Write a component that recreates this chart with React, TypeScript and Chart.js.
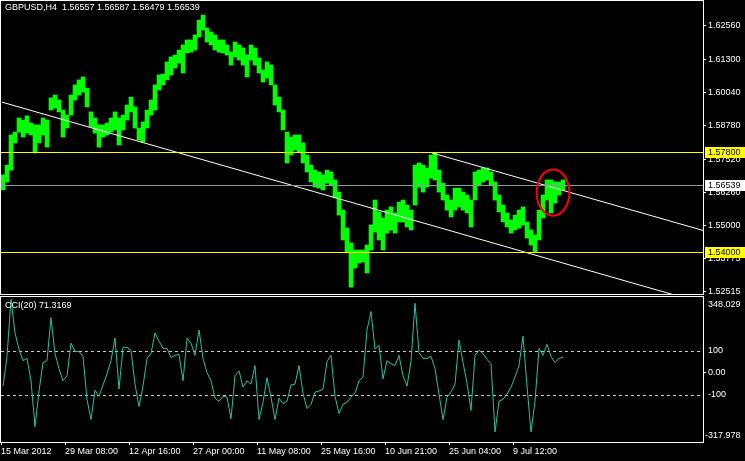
import React, { useEffect, useRef } from 'react';
import { Chart, registerables } from 'chart.js';
Chart.register(...registerables);

const FONT = '"Liberation Sans", Arial, sans-serif';

const titleText = 'GBPUSD,H4  1.56557 1.56587 1.56479 1.56539';
const cciTitle = 'CCI(20) 71.3169';

const barHighs = [
  1.5693, 1.5730, 1.5844, 1.5855, 1.5908, 1.5900, 1.5916, 1.5889, 1.5882, 1.5882,
  1.5908, 1.5900, 1.5984, 1.5995, 1.5976, 1.5938, 1.5919, 1.5995, 1.6033, 1.6052,
  1.6063, 1.6021, 1.5931, 1.5908, 1.5882, 1.5882, 1.5889, 1.5908, 1.5931, 1.5908,
  1.5919, 1.5957, 1.5987, 1.5950, 1.5870, 1.5893, 1.5938, 1.5976, 1.6033, 1.6071,
  1.6074, 1.6120, 1.6139, 1.6146, 1.6165, 1.6184, 1.6203, 1.6203, 1.6222, 1.6278,
  1.6297, 1.6248, 1.6233, 1.6222, 1.6203, 1.6203, 1.6184, 1.6157, 1.6195, 1.6184,
  1.6173, 1.6146, 1.6184, 1.6173, 1.6135, 1.6089, 1.6120, 1.6108, 1.6033, 1.5987,
  1.5938, 1.5855, 1.5836, 1.5844, 1.5844, 1.5814, 1.5768, 1.5730, 1.5711, 1.5704,
  1.5693, 1.5711, 1.5704, 1.5674, 1.5628, 1.5560, 1.5492, 1.5436, 1.5409, 1.5409,
  1.5409, 1.5428, 1.5504, 1.5598, 1.5553, 1.5530, 1.5560, 1.5572, 1.5549, 1.5590,
  1.5598, 1.5579, 1.5560, 1.5730, 1.5738, 1.5730, 1.5719, 1.5768, 1.5776, 1.5711,
  1.5662, 1.5617, 1.5598, 1.5643, 1.5643, 1.5628, 1.5617, 1.5598, 1.5704, 1.5711,
  1.5719, 1.5719, 1.5704, 1.5666, 1.5617, 1.5579, 1.5549, 1.5522, 1.5541, 1.5560,
  1.5572, 1.5515, 1.5485, 1.5466, 1.5560, 1.5617, 1.5674, 1.5674, 1.5666, 1.5666, 1.5674,
];

const barLows = [
  1.5636, 1.5666, 1.5711, 1.5814, 1.5855, 1.5836, 1.5851, 1.5844, 1.5776, 1.5814,
  1.5844, 1.5798, 1.5938, 1.5946, 1.5931, 1.5836, 1.5870, 1.5919, 1.5976, 1.5995,
  1.6006, 1.5950, 1.5874, 1.5851, 1.5798, 1.5836, 1.5844, 1.5855, 1.5863, 1.5806,
  1.5863, 1.5900, 1.5931, 1.5870, 1.5825, 1.5817, 1.5870, 1.5919, 1.5938, 1.6014,
  1.6033, 1.6052, 1.6071, 1.6097, 1.6116, 1.6078, 1.6154, 1.6157, 1.6165, 1.6214,
  1.6241, 1.6195, 1.6184, 1.6165, 1.6157, 1.6154, 1.6146, 1.6108, 1.6139, 1.6127,
  1.6108, 1.6063, 1.6127, 1.6108, 1.6078, 1.6044, 1.6059, 1.6033, 1.5957, 1.5931,
  1.5863, 1.5738, 1.5768, 1.5787, 1.5779, 1.5738, 1.5704, 1.5666, 1.5647, 1.5643,
  1.5636, 1.5662, 1.5655, 1.5606, 1.5541, 1.5447, 1.5398, 1.5269, 1.5341, 1.5360,
  1.5364, 1.5322, 1.5409, 1.5477, 1.5447, 1.5409, 1.5473, 1.5485, 1.5473, 1.5515,
  1.5515, 1.5496, 1.5485, 1.5579, 1.5647, 1.5628, 1.5647, 1.5681, 1.5674, 1.5628,
  1.5598, 1.5560, 1.5534, 1.5560, 1.5572, 1.5560, 1.5549, 1.5496, 1.5598, 1.5655,
  1.5666, 1.5674, 1.5655, 1.5598, 1.5553, 1.5515, 1.5496, 1.5473, 1.5485, 1.5492,
  1.5504, 1.5454, 1.5428, 1.5401, 1.5447, 1.5530, 1.5598, 1.5549, 1.5587, 1.5617, 1.5636,
];

const cciValues = [
  -61, 75, 337, 183, 108, 56, 66, -37, -248, -84,
  47, 56, 253, 89, 19, -37, -14, 136, 98, 98,
  75, -122, -215, -80, -108, -56, -5, 56, 159, -75,
  117, 117, 103, -52, -155, -61, 66, 89, 183, 145,
  112, 112, 70, 80, 84, -37, 159, 136, 80, 197,
  66, 0, -37, -117, -131, -108, -112, -211, -14, 9,
  -66, -37, -52, 33, -215, -136, -23, -112, -215, -117,
  -141, -131, -56, -52, 33, -94, -164, -145, -89, -84,
  -75, 52, 80, -108, -187, -145, -136, -112, -94, -37,
  -19, 197, 281, 108, 126, -28, 56, 42, 33, 80,
  -14, -61, 52, 319, 94, 66, 66, 75, 19, -98,
  -215, -112, -89, -52, 150, 47, -47, -173, 80, 103,
  89, 61, 42, -272, -131, -122, -98, -66, -19, 33,
  169, -61, -272, -131, 112, 80, 131, 75, 47, 66, 71,
];

const xTickPositions = [0, 16, 32, 48, 64, 80, 96, 112, 128];
const xTickLabels = [
  '15 Mar 2012', '29 Mar 08:00', '12 Apr 16:00', '27 Apr 00:00', '11 May 08:00',
  '25 May 16:00', '10 Jun 21:00', '25 Jun 04:00', '9 Jul 12:00',
];
const xMax = 175.5;

const priceTicks = [1.6256, 1.613, 1.6004, 1.5878, 1.5752, 1.5626, 1.55, 1.53775, 1.52515];
const priceMin = 1.5239;
const priceMax = 1.6354;
const levelLines = [1.578, 1.54];
const bidPrice = 1.56539;

const trend1X = [0.25, 175.5];
const trend1Y = [1.5968, 1.5208];
const trend2X = [107.75, 175.5];
const trend2Y = [1.5776, 1.5483];

const ellipseCenter = [138, 1.5626];
const ellipseRadius = [4.1, 0.0087];

const cciMin = -317.978;
const cciMax = 348.029;
const cciTicks = [100, 0, -100];
const cciLevels = [100, -100];

const W = 745;
const PRICE_H = 296;
const CCI_H = 165;
const AXIS_W = 42;

const noPad = (s: any) => {
  s.paddingTop = 0;
  s.paddingBottom = 0;
  s.paddingLeft = 0;
  s.paddingRight = 0;
};

export default function App() {
  const priceRef = useRef<HTMLCanvasElement>(null);
  const cciRef = useRef<HTMLCanvasElement>(null);

  useEffect(() => {
    document.body.style.margin = '0';
    document.body.style.background = '#000';
    const font = { family: FONT, size: 9 };

    const pricePlugin = {
      id: 'pricePanel',
      afterDatasetsDraw(chart: any) {
        const { ctx, chartArea: a, scales } = chart;
        const ys = scales.y;
        const xs = scales.x;
        ctx.save();
        ctx.beginPath();
        ctx.rect(a.left, a.top, a.right - a.left, a.bottom - a.top);
        ctx.clip();
        ctx.lineWidth = 1;
        ctx.strokeStyle = '#80a0a0';
        const py = Math.round(ys.getPixelForValue(bidPrice)) + 0.5;
        ctx.beginPath(); ctx.moveTo(a.left, py); ctx.lineTo(a.right, py); ctx.stroke();
        ctx.strokeStyle = '#ffff00';
        levelLines.forEach((v) => {
          const p = Math.round(ys.getPixelForValue(v)) + 0.5;
          ctx.beginPath(); ctx.moveTo(a.left, p); ctx.lineTo(a.right, p); ctx.stroke();
        });
        const cx = xs.getPixelForValue(ellipseCenter[0]);
        const cy = ys.getPixelForValue(ellipseCenter[1]);
        const rx = xs.getPixelForValue(ellipseCenter[0] + ellipseRadius[0]) - cx;
        const ry = cy - ys.getPixelForValue(ellipseCenter[1] + ellipseRadius[1]);
        ctx.strokeStyle = '#ff0000';
        ctx.lineWidth = 2;
        ctx.beginPath();
        ctx.ellipse(cx, cy, rx, ry, 0, 0, Math.PI * 2);
        ctx.stroke();
        ctx.restore();
      },
      afterDraw(chart: any) {
        const { ctx, chartArea: a, scales } = chart;
        const ys = scales.y;
        ctx.save();
        ctx.font = `9px ${FONT}`;
        ctx.textBaseline = 'middle';
        ctx.textAlign = 'left';
        const box = (v: number, bg: string) => {
          const p = Math.round(ys.getPixelForValue(v));
          ctx.fillStyle = bg;
          ctx.fillRect(a.right + 2, p - 5, W - a.right - 2, 11);
          ctx.fillStyle = '#000';
          ctx.fillText(v.toFixed(5), a.right + 5, p + 0.5);
        };
        levelLines.forEach((v) => box(v, '#ffff00'));
        box(bidPrice, '#ffffff');
        ctx.fillStyle = '#fff';
        ctx.fillText(titleText, 5, 8);
        ctx.strokeStyle = '#fff';
        ctx.lineWidth = 1;
        ctx.strokeRect(0.5, 0.5, a.right, a.bottom - 1);
        ctx.restore();
      },
    };

    const cciPlugin = {
      id: 'cciPanel',
      beforeDatasetsDraw(chart: any) {
        const { ctx, chartArea: a, scales } = chart;
        ctx.save();
        ctx.strokeStyle = '#c8c8c8';
        ctx.lineWidth = 1;
        ctx.setLineDash([3, 3]);
        cciLevels.forEach((v) => {
          const p = Math.round(scales.y.getPixelForValue(v)) + 0.5;
          ctx.beginPath(); ctx.moveTo(a.left, p); ctx.lineTo(a.right, p); ctx.stroke();
        });
        ctx.restore();
      },
      afterDraw(chart: any) {
        const { ctx, chartArea: a } = chart;
        ctx.save();
        ctx.font = `9px ${FONT}`;
        ctx.textBaseline = 'middle';
        ctx.textAlign = 'left';
        ctx.fillStyle = '#fff';
        ctx.fillText(cciTitle, 5, 10);
        ctx.fillText(cciMax.toFixed(3), a.right + 5, a.top + 8);
        ctx.fillText(cciMin.toFixed(3), a.right + 2, a.bottom - 6);
        ctx.strokeStyle = '#fff';
        ctx.lineWidth = 1;
        ctx.strokeRect(0.5, 0.5, a.right, a.bottom);
        ctx.restore();
      },
    };

    const priceChart = new Chart(priceRef.current!, {
      type: 'bar',
      data: {
        datasets: [
          {
            type: 'line',
            data: trend1X.map((x, i) => ({ x, y: trend1Y[i] })),
            borderColor: '#ffffff',
            borderWidth: 1,
            pointRadius: 0,
            order: 1,
          } as any,
          {
            type: 'line',
            data: trend2X.map((x, i) => ({ x, y: trend2Y[i] })),
            borderColor: '#ffffff',
            borderWidth: 1,
            pointRadius: 0,
            order: 1,
          } as any,
          {
            type: 'bar',
            data: barHighs.map((h, i) => ({ x: i + 0.5, y: [barLows[i], h] })),
            backgroundColor: '#00ff00',
            borderWidth: 0,
            barPercentage: 1,
            categoryPercentage: 1,
            grouped: false,
            order: 2,
          } as any,
        ],
      },
      options: {
        responsive: false,
        animation: false,
        devicePixelRatio: 1,
        layout: { padding: { left: 1, top: 0, right: 0, bottom: 1 } },
        plugins: { legend: { display: false }, tooltip: { enabled: false } },
        scales: {
          x: { type: 'linear', min: 0, max: xMax, display: false, offset: false },
          y: {
            position: 'right',
            min: priceMin,
            max: priceMax,
            afterFit: (s: any) => { s.width = AXIS_W; noPad(s); },
            afterBuildTicks: (s: any) => { s.ticks = priceTicks.map((v) => ({ value: v })); },
            ticks: {
              color: '#fff',
              font,
              padding: 2,
              autoSkip: false,
              callback: (v: any) => Number(v).toFixed(5),
            },
            grid: { drawOnChartArea: false, drawTicks: true, tickLength: 3, color: '#fff' },
            border: { display: false },
          },
        },
      } as any,
      plugins: [pricePlugin],
    });

    const cciChart = new Chart(cciRef.current!, {
      type: 'line',
      data: {
        datasets: [
          {
            data: cciValues.map((v, i) => ({ x: i + 0.5, y: v })),
            borderColor: '#26c2a4',
            borderWidth: 1,
            pointRadius: 0,
            tension: 0,
          },
        ],
      },
      options: {
        responsive: false,
        animation: false,
        devicePixelRatio: 1,
        layout: { padding: { left: 1, top: 1, right: 0, bottom: 0 } },
        plugins: { legend: { display: false }, tooltip: { enabled: false } },
        scales: {
          x: {
            type: 'linear',
            min: 0,
            max: xMax,
            offset: false,
            afterFit: (s: any) => { s.height = 19; noPad(s); },
            afterBuildTicks: (s: any) => { s.ticks = xTickPositions.map((v) => ({ value: v })); },
            ticks: {
              color: '#fff',
              font,
              padding: 1,
              align: 'start',
              maxRotation: 0,
              autoSkip: false,
              callback: (_v: any, i: number) => xTickLabels[i],
            },
            grid: { drawOnChartArea: false, drawTicks: true, tickLength: 3, color: '#fff' },
            border: { display: false },
          },
          y: {
            position: 'right',
            min: cciMin,
            max: cciMax,
            afterFit: (s: any) => { s.width = AXIS_W; noPad(s); },
            afterBuildTicks: (s: any) => { s.ticks = cciTicks.map((v) => ({ value: v })); },
            ticks: {
              color: '#fff',
              font,
              padding: 2,
              autoSkip: false,
              callback: (v: any) => (Number(v) === 0 ? '0.00' : String(v)),
            },
            grid: {
              drawOnChartArea: false,
              drawTicks: true,
              tickLength: 3,
              color: (c: any) => (c.tick && c.tick.value === 0 ? '#fff' : 'rgba(0,0,0,0)'),
            },
            border: { display: false },
          },
        },
      } as any,
      plugins: [cciPlugin],
    });

    return () => {
      priceChart.destroy();
      cciChart.destroy();
    };
  }, []);

  return (
    <div style={{ position: 'fixed', left: 0, top: 0, width: W, height: PRICE_H + CCI_H, background: '#000' }}>
      <canvas ref={priceRef} width={W} height={PRICE_H} style={{ position: 'absolute', left: 0, top: 0, width: W, height: PRICE_H }} />
      <canvas ref={cciRef} width={W} height={CCI_H} style={{ position: 'absolute', left: 0, top: PRICE_H, width: W, height: CCI_H }} />
    </div>
  );
}
